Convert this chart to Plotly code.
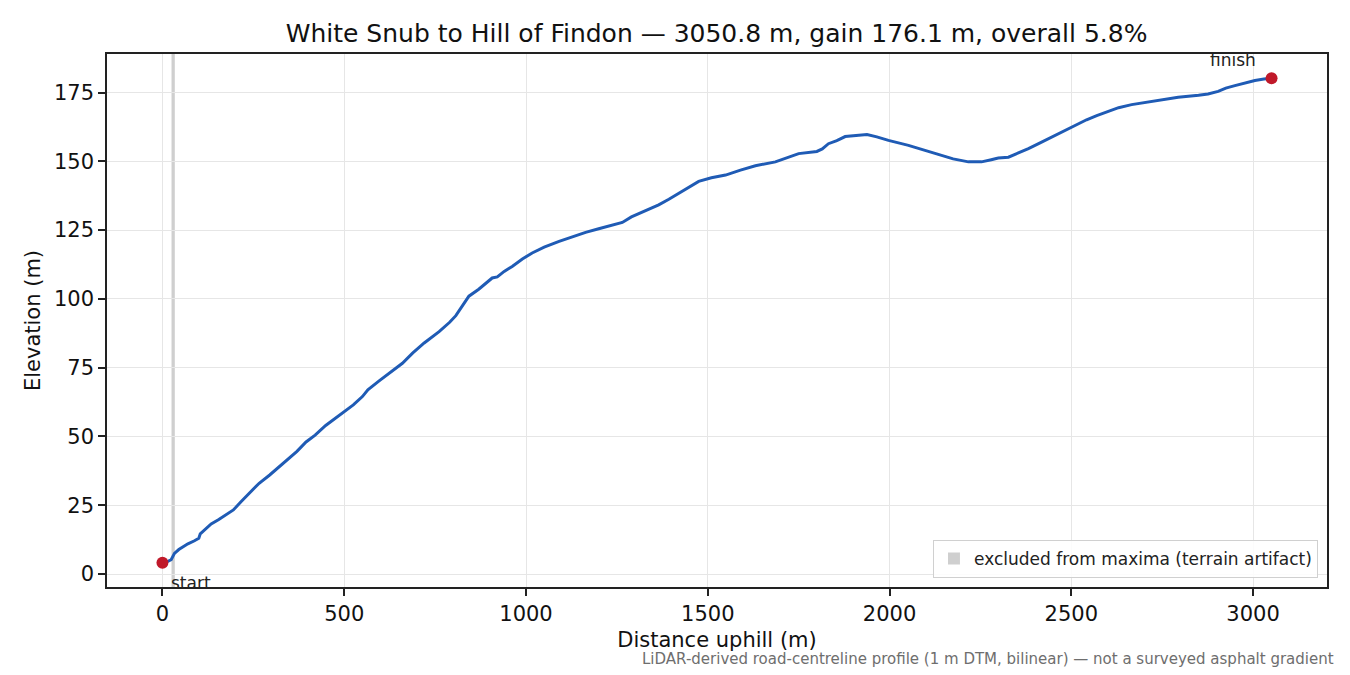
import plotly.graph_objects as go

# distance along road (m) and elevation (m)
distance = [0, 15, 24, 33, 45, 56, 70, 88, 100, 104, 120, 134, 155, 175, 195,
            216, 240, 266, 295, 321, 345, 370, 395, 420, 449, 475, 500, 525,
            550, 565, 596, 630, 660, 688, 720, 761, 790, 807, 825, 843, 870,
            895, 907, 921, 940, 962, 990, 1017, 1050, 1091, 1130, 1164, 1200,
            1240, 1265, 1290, 1320, 1345, 1365, 1393, 1420, 1448, 1475, 1510,
            1549, 1590, 1631, 1686, 1720, 1750, 1800, 1815, 1832, 1855, 1878,
            1910, 1938, 1965, 1997, 2052, 2090, 2135, 2175, 2217, 2253, 2280,
            2299, 2327, 2355, 2382, 2410, 2437, 2466, 2496, 2520, 2542, 2570,
            2602, 2630, 2666, 2730, 2794, 2850, 2876, 2904, 2925, 2950, 2980,
            3005, 3030, 3050.8]
elevation = [4.1, 4.6, 5.2, 7.5, 8.9, 9.9, 11.0, 12.1, 13.0, 14.6, 16.5, 18.2,
             19.8, 21.5, 23.3, 26.3, 29.5, 33.0, 36.0, 39.0, 41.8, 44.6, 48.0,
             50.5, 54.0, 56.5, 58.8, 61.5, 64.5, 67.0, 70.2, 73.5, 76.6, 80.3,
             84.0, 88.1, 91.5, 93.9, 97.5, 101.0, 103.5, 106.5, 107.6, 108.0,
             110.0, 111.8, 114.5, 116.7, 118.8, 120.9, 122.8, 124.2, 125.5,
             126.8, 127.8, 129.8, 131.6, 133.0, 134.2, 136.2, 138.4, 140.6,
             142.7, 144.0, 145.0, 146.8, 148.4, 149.8, 151.5, 152.8, 153.6,
             154.5, 156.4, 157.5, 159.0, 159.4, 159.7, 158.9, 157.6, 155.8,
             154.3, 152.4, 150.9, 149.8, 149.8, 150.6, 151.2, 151.5, 153.0,
             154.6, 156.4, 158.2, 160.1, 162.1, 163.8, 165.1, 166.6, 168.2,
             169.5, 170.6, 171.9, 173.3, 174.0, 174.5, 175.4, 176.6, 177.5,
             178.5, 179.4, 179.9, 180.2]

excluded = [25, 34]  # distance span flagged as terrain artifact
x_ticks = [0, 500, 1000, 1500, 2000, 2500, 3000]
y_ticks = [0, 25, 50, 75, 100, 125, 150, 175]

total = distance[-1]
gain = elevation[-1] - elevation[0]
title = (f"White Snub to Hill of Findon — {total:.1f} m, gain {gain:.1f} m, "
         f"overall {gain / total * 100:.1f}%")

FONT = "DejaVu Sans"
pad_x = total * 0.05
pad_y = gain * 0.05

fig = go.Figure()

fig.add_vrect(x0=excluded[0], x1=excluded[1], fillcolor="rgba(128,128,128,0.38)",
              line_width=0, layer="below", showlegend=True,
              name="excluded from maxima (terrain artifact)")

fig.add_trace(go.Scatter(x=distance, y=elevation, mode="lines",
                         line=dict(color="#1f5bb5", width=3),
                         showlegend=False, hoverinfo="skip"))

fig.add_trace(go.Scatter(x=[distance[0], distance[-1]],
                         y=[elevation[0], elevation[-1]], mode="markers",
                         marker=dict(color="#c0192a", size=12),
                         showlegend=False))

fig.add_annotation(x=distance[0], y=elevation[0], text="start", showarrow=False,
                   xanchor="left", yanchor="middle", xshift=7, yshift=-20,
                   font=dict(family=FONT, size=17, color="#222"))
fig.add_annotation(x=distance[-1], y=elevation[-1], text="finish", showarrow=False,
                   xanchor="center", yanchor="middle", xshift=-39, yshift=18,
                   font=dict(family=FONT, size=17, color="#222"))

fig.add_annotation(xref="paper", yref="paper", x=1.0074, y=-0.135,
                   text="LiDAR-derived road-centreline profile (1 m DTM, bilinear)"
                        " — not a surveyed asphalt gradient",
                   showarrow=False, xanchor="right", yanchor="middle",
                   font=dict(family=FONT, size=15, color="#6e6e6e"))

axis_style = dict(showline=True, linecolor="#222", linewidth=1.6, mirror=True,
                  ticks="outside", ticklen=7, tickwidth=1.6, tickcolor="#222",
                  showgrid=True, gridcolor="#e6e6e6", gridwidth=1.2,
                  zeroline=False, tickfont=dict(family=FONT, size=21, color="#111"))

fig.update_xaxes(range=[-pad_x, total + pad_x], tickvals=x_ticks,
                 title=dict(text="Distance uphill (m)", standoff=7,
                            font=dict(family=FONT, size=21, color="#111")),
                 **axis_style)
fig.update_yaxes(range=[min(elevation) - pad_y, max(elevation) + pad_y],
                 tickvals=y_ticks,
                 title=dict(text="Elevation (m)", standoff=8,
                            font=dict(family=FONT, size=21, color="#111")),
                 **axis_style)

fig.update_layout(
    width=1342, height=667,
    margin=dict(l=99, r=23, t=46, b=88),
    paper_bgcolor="white", plot_bgcolor="white",
    title=dict(text=title, x=0.528, xanchor="center", y=0.962, yanchor="middle",
               font=dict(family=FONT, size=25, color="#111")),
    legend=dict(x=0.9926, y=0.017, xanchor="right", yanchor="bottom",
                bgcolor="rgba(255,255,255,0.85)", bordercolor="#d0d0d0",
                borderwidth=1, font=dict(family=FONT, size=17, color="#222")),
)

fig.write_html("out.html")
